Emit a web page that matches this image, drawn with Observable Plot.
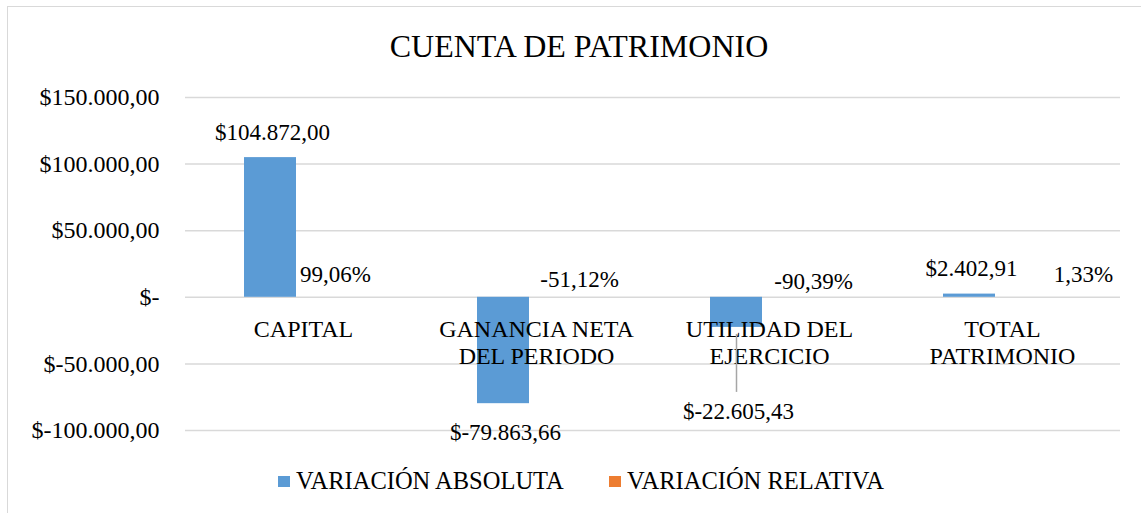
<!DOCTYPE html>
<html><head><meta charset="utf-8">
<script src="https://cdn.jsdelivr.net/npm/d3@7"></script>
<script src="https://cdn.jsdelivr.net/npm/@observablehq/plot@0.6"></script>
<style>
html,body{margin:0;padding:0;background:#fff;overflow:hidden;}
#wrap{position:relative;width:1141px;height:513px;overflow:hidden;font-family:'Liberation Serif','Times New Roman',serif;}
#frame{position:absolute;left:7px;top:6px;width:1200px;height:600px;border:1.5px solid #d9d9d9;box-sizing:border-box;}
#title{position:absolute;left:0;top:30px;width:1158px;text-align:center;font-family:'Liberation Serif',serif;font-size:32px;line-height:32px;color:#000;}
#plot{position:absolute;left:0;top:70px;}
.leg{position:absolute;font-family:'Liberation Serif',serif;font-size:24.5px;line-height:24px;top:469px;color:#000;white-space:nowrap;}
.sw{position:absolute;width:12px;height:11px;top:476px;}
</style></head><body>
<div id="wrap">
  <div id="frame"></div>
  <div id="title">CUENTA DE PATRIMONIO</div>
  <div id="plot"></div>
  <div id="legend"></div>
</div>
<script>
// ---- data ----
const categories = ["CAPITAL", "GANANCIA NETA DEL PERIODO", "UTILIDAD DEL EJERCICIO", "TOTAL PATRIMONIO"];
const categoryLabels = ["CAPITAL", "GANANCIA NETA\nDEL PERIODO", "UTILIDAD DEL\nEJERCICIO", "TOTAL\nPATRIMONIO"];
const variacionAbsoluta = [104872.00, -79863.66, -22605.43, 2402.91];
const variacionRelativa = [0.9906, -0.5112, -0.9039, 0.0133];
const yTicks = [-100000, -50000, 0, 50000, 100000, 150000];
const seriesNames = ["VARIACIÓN ABSOLUTA", "VARIACIÓN RELATIVA"];
const seriesColors = ["#5B9BD5", "#ED7D31"];

// ---- formatting ----
const loc = d3.formatLocale({decimal: ",", thousands: ".", grouping: [3], currency: ["$", ""]});
const num2 = loc.format(",.2f");
const fmtMoney = v => v === 0 ? "$-" : "$" + (v < 0 ? "-" : "") + num2(Math.abs(v));
const fmtPct = v => (v * 100).toFixed(2).replace(".", ",") + "%";

const rows = categories.map((c, i) => ({
  category: c, label: categoryLabels[i], abs: variacionAbsoluta[i], rel: variacionRelativa[i]
}));

// ---- layout (label placement offsets, px) ----
const groupShift = -7;          // bar group offset from band centre
const halfGroup = 52;           // width of one bar
const relLabelOffset = [[13, -23], [24, -18], [25, -16], [62, -23]];
const absLabelDy = [-25, 29, 84, -25];

const font = "Liberation Serif, Times New Roman, serif";

const marks = [
  Plot.ruleY(yTicks, {stroke: "#d9d9d9", strokeWidth: 1.5}),
  Plot.barY(rows, {x: "category", y: "abs", fill: seriesColors[0], insetRight: halfGroup, dx: groupShift}),
  Plot.barY(rows, {x: "category", y: "rel", fill: seriesColors[1], insetLeft: halfGroup, dx: groupShift}),
  Plot.axisY({ticks: yTicks, tickFormat: fmtMoney, tickSize: 0, tickPadding: 26, fontSize: 24, fontFamily: font, fill: "#000"}),
  Plot.text(rows, {x: "category", y: 0, text: "label", lineAnchor: "top", lineHeight: 1.14, dy: 20, fontSize: 24, fontFamily: font, fill: "#000"}),
  // leader line for the moved label
  Plot.ruleX([rows[2]], {x: "category", y1: "abs", y2: "abs", dx: groupShift - halfGroup / 2, insetTop: 7, insetBottom: -65, stroke: "#a6a6a6", strokeWidth: 1.5})
];
rows.forEach((d, i) => {
  marks.push(Plot.text([d], {x: "category", y: "abs", text: r => fmtMoney(r.abs), dx: groupShift - halfGroup / 2 + 2, dy: absLabelDy[i], lineAnchor: "middle", fontSize: 23, fontFamily: font, fill: "#000"}));
  marks.push(Plot.text([d], {x: "category", y: 0, text: r => fmtPct(r.rel), dx: groupShift + halfGroup / 2 + relLabelOffset[i][0], dy: relLabelOffset[i][1], lineAnchor: "middle", fontSize: 23, fontFamily: font, fill: "#000"}));
});

const chart = Plot.plot({
  width: 1141,
  height: 385,
  marginTop: 27,
  marginBottom: 25,
  marginLeft: 185,
  marginRight: 21,
  style: {fontFamily: font, fontSize: "23px", color: "#000", background: "transparent", overflow: "visible"},
  x: {domain: categories, type: "band", paddingInner: 0.555, paddingOuter: 0.2775, axis: null},
  y: {domain: [-100000, 150000], axis: null},
  marks
});
document.getElementById("plot").appendChild(chart);

// ---- legend ----
const legend = document.getElementById("legend");
const legPos = [278, 609];
seriesNames.forEach((name, i) => {
  const sw = document.createElement("div");
  sw.className = "sw";
  sw.style.left = legPos[i] + "px";
  sw.style.background = seriesColors[i];
  legend.appendChild(sw);
  const t = document.createElement("div");
  t.className = "leg";
  t.style.left = (legPos[i] + 18) + "px";
  t.textContent = name;
  legend.appendChild(t);
});
</script>
</body></html>
